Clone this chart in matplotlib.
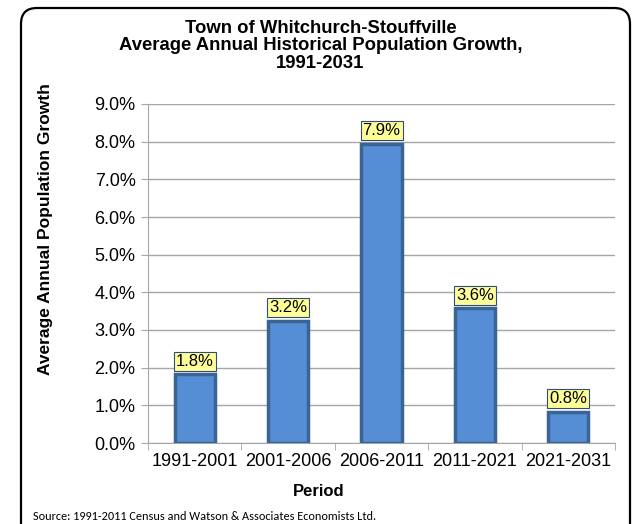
import numpy as np
import matplotlib
matplotlib.use("Agg")
import matplotlib.pyplot as plt
from matplotlib.patches import FancyBboxPatch
from matplotlib.ticker import FuncFormatter, FixedLocator

periods = ["1991-2001", "2001-2006", "2006-2011", "2011-2021", "2021-2031"]
growth = [1.83, 3.24, 7.94, 3.58, 0.83]
yticks = np.arange(0, 9.5, 1.0)

title = "Town of Whitchurch-Stouffville\nAverage Annual Historical Population Growth,\n1991-2031"
source = "Source: 1991-2011 Census and Watson & Associates Economists Ltd."

plt.rcParams['font.family'] = ['Liberation Sans', 'DejaVu Sans']

fig = plt.figure(figsize=(6.37, 5.24), dpi=100)

# rounded outer frame
frame = FancyBboxPatch((21 / 637, -0.05), 609 / 637, 1 - 8 / 524 + 0.05,
                       boxstyle="round,pad=0,rounding_size=0.025",
                       transform=fig.transFigure, fill=False, ec="black", lw=1.6,
                       mutation_aspect=637 / 524)
fig.patches.append(frame)

ax = fig.add_axes([148 / 637, 1 - 443 / 524, 467 / 637, 339 / 524])
x = np.arange(len(periods))
ax.bar(x, growth, width=0.43, color="#558ED5", edgecolor="#3B6496", linewidth=2.5, zorder=3)

for xi, v in zip(x, growth):
    ax.annotate(f"{v:.1f}%", (xi, v), xytext=(0, 4), textcoords="offset points",
                ha="center", va="bottom", fontsize=12, zorder=4,
                bbox=dict(boxstyle="square,pad=0.12", fc="#FFFF99", ec="#2F4B7C", lw=0.8))

ax.set_xlim(-0.5, len(periods) - 0.5)
ax.set_ylim(0, 9)
ax.set_yticks(yticks)
ax.yaxis.set_major_formatter(FuncFormatter(lambda v, p: f"{v:.1f}%"))
ax.yaxis.grid(True, color="#A6A6A6", lw=1.0, zorder=0)
ax.set_xticks(x)
ax.set_xticklabels(periods, fontsize=13)
ax.tick_params(axis="x", length=0, pad=7)
ax.xaxis.set_minor_locator(FixedLocator(np.arange(-0.5, len(periods), 1.0)))
ax.tick_params(axis="x", which="minor", length=5, color="#A6A6A6", direction="out")
ax.tick_params(axis="y", labelsize=13, length=5, color="#A6A6A6", direction="out", pad=4)

for s in ["top", "right"]:
    ax.spines[s].set_visible(False)
ax.spines["left"].set_color("#A6A6A6")
ax.spines["bottom"].set_color("#A6A6A6")

ax.set_xlabel("Period", fontsize=12, fontweight="bold", va="center")
ax.xaxis.set_label_coords(0.5, 1 - 491 / 524, transform=fig.transFigure)
ax.set_ylabel("Average Annual Population Growth", fontsize=12.5, fontweight="bold", va="center")
ax.yaxis.set_label_coords(46 / 637, 1 - 229 / 524, transform=fig.transFigure)

fig.text(0.5 + 2 / 637, 1 - 20 / 524, title, ha="center", va="top", fontsize=13.3,
         fontweight="bold", linespacing=1.03)
fig.text(33 / 637, 1 - 516 / 524, source, ha="left", va="center", fontsize=8.8,
         family=["Carlito", "Open Sans", "DejaVu Sans"])

fig.savefig("out.png", dpi=100)
